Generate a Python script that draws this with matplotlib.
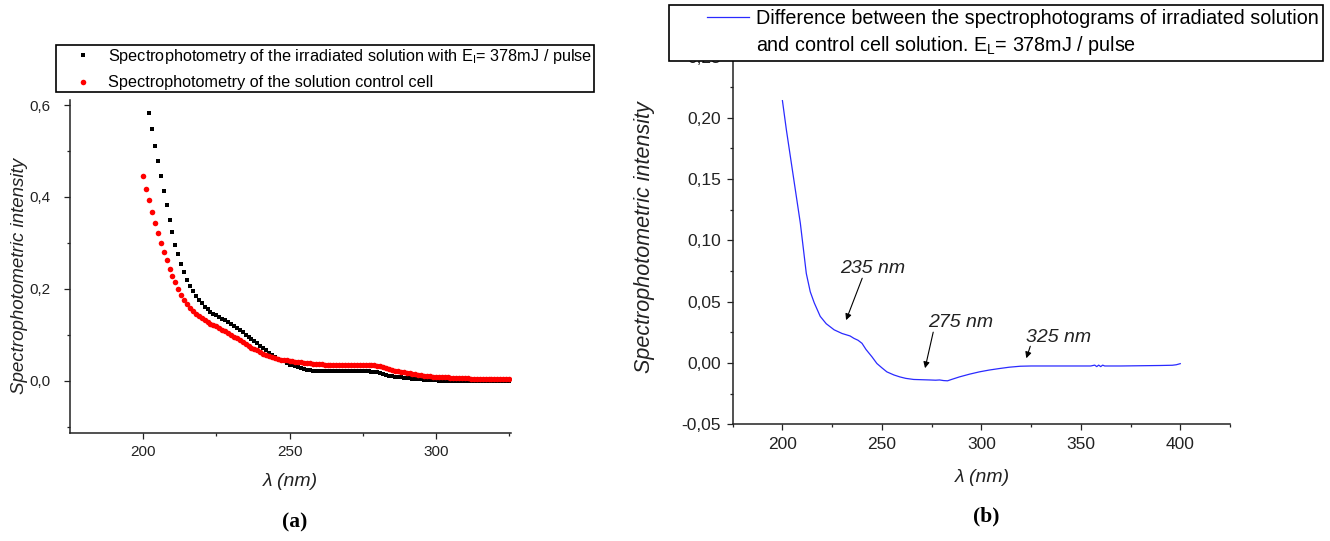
import matplotlib
matplotlib.use('Agg')
import matplotlib.pyplot as plt
import numpy as np
from matplotlib.ticker import FixedLocator, MultipleLocator
from matplotlib.lines import Line2D
from matplotlib.legend_handler import HandlerLine2D

# Fonts (Arial-like, like the Origin original)
matplotlib.rcParams['font.family'] = ['Liberation Sans', 'DejaVu Sans']
matplotlib.rcParams['mathtext.fontset'] = 'custom'
matplotlib.rcParams['mathtext.rm'] = 'Liberation Sans'
matplotlib.rcParams['mathtext.it'] = 'Liberation Sans:italic'

# ---------------- data, panel (a) ----------------
# irradiated solution, 1 nm steps from 202 nm
wl_irr = np.arange(202, 326)
int_irr = [0.583, 0.547, 0.510, 0.478, 0.446, 0.413, 0.382, 0.350,            # 202-209
           0.324, 0.296, 0.275, 0.254, 0.236, 0.220, 0.207, 0.195, 0.184, 0.175,  # 210-219
           0.168, 0.161, 0.155, 0.150, 0.146, 0.143, 0.139, 0.135, 0.131, 0.127,  # 220-229
           0.123, 0.119, 0.115, 0.110, 0.105, 0.100, 0.096, 0.091, 0.086, 0.081,  # 230-239
           0.076, 0.071, 0.066, 0.061, 0.056, 0.052, 0.048, 0.045, 0.042, 0.038,  # 240-249
           0.035, 0.033, 0.031, 0.029, 0.027, 0.026, 0.024, 0.023, 0.022, 0.021,  # 250-259
           0.021, 0.020, 0.020, 0.020, 0.020, 0.020, 0.020, 0.020, 0.020, 0.020,  # 260-269
           0.020, 0.020, 0.020, 0.020, 0.020, 0.020, 0.020, 0.020, 0.019, 0.019,  # 270-279
           0.018, 0.017, 0.015, 0.013, 0.011, 0.010, 0.009, 0.008, 0.007, 0.006,  # 280-289
           0.006, 0.005, 0.004, 0.004, 0.003, 0.003, 0.002, 0.002, 0.001, 0.001,  # 290-299
           0.001, 0.000, 0.000, 0.000, -0.001, -0.001, -0.001, -0.001, -0.001, -0.001,  # 300-309
           -0.001, -0.001, -0.001, -0.001, -0.001, -0.001, -0.001, -0.001, -0.001, -0.001,  # 310-319
           -0.001, -0.001, -0.001, -0.001, -0.001, -0.001]  # 320-325

# control cell, 1 nm steps from 200 nm
wl_ctrl = np.arange(200, 326)
int_ctrl = [0.446, 0.418, 0.393, 0.367, 0.343, 0.321, 0.299, 0.280, 0.262, 0.243,  # 200-209
            0.228, 0.214, 0.200, 0.187, 0.176, 0.166, 0.158, 0.151, 0.145, 0.140,  # 210-219
            0.136, 0.132, 0.128, 0.124, 0.121, 0.118, 0.114, 0.111, 0.107, 0.104,  # 220-229
            0.100, 0.096, 0.092, 0.088, 0.084, 0.080, 0.076, 0.072, 0.069, 0.066,  # 230-239
            0.062, 0.059, 0.056, 0.053, 0.051, 0.049, 0.047, 0.046, 0.045, 0.044,  # 240-249
            0.043, 0.042, 0.041, 0.041, 0.040, 0.039, 0.039, 0.038, 0.037, 0.037,  # 250-259
            0.036, 0.036, 0.035, 0.035, 0.034, 0.034, 0.034, 0.033, 0.033, 0.033,  # 260-269
            0.033, 0.033, 0.033, 0.033, 0.033, 0.033, 0.033, 0.033, 0.033, 0.033,  # 270-279
            0.032, 0.031, 0.029, 0.027, 0.025, 0.023, 0.021, 0.020, 0.019, 0.018,  # 280-289
            0.017, 0.016, 0.015, 0.014, 0.013, 0.012, 0.011, 0.010, 0.010, 0.009,  # 290-299
            0.009, 0.008, 0.008, 0.007, 0.007, 0.006, 0.006, 0.006, 0.005, 0.005,  # 300-309
            0.005, 0.005, 0.004, 0.004, 0.004, 0.004, 0.004, 0.003, 0.003, 0.003,  # 310-319
            0.003, 0.003, 0.003, 0.003, 0.003, 0.003]  # 320-325

# ---------------- data, panel (b) ----------------
wl_diff = [200, 202, 205.5, 209, 212, 214, 216, 219, 222, 226, 230, 234, 236, 238,
           240, 242, 245, 247.5, 250, 252.5, 256, 259, 262, 266, 270, 274, 277, 279,
           281, 283, 285, 289, 294, 299, 304, 309, 314, 319.6, 325, 335, 345, 355,
           357, 358, 359, 360, 361, 362, 370, 380, 390, 396, 398, 400]
int_diff = [0.214, 0.190, 0.152, 0.114, 0.073, 0.058, 0.049, 0.038, 0.032, 0.027,
            0.024, 0.022, 0.020, 0.0185, 0.016, 0.011, 0.005, -0.0005, -0.004, -0.0073,
            -0.0098, -0.0114, -0.0126, -0.0135, -0.0137, -0.0139, -0.0141, -0.0139,
            -0.0144, -0.0146, -0.0135, -0.0114, -0.0092, -0.0073, -0.0058, -0.0046,
            -0.0035, -0.0027, -0.0025, -0.0025, -0.0025, -0.0025, -0.0018, -0.003,
            -0.0018, -0.003, -0.0018, -0.0025, -0.0025, -0.0023, -0.0021, -0.0019,
            -0.0015, -0.0006]

# peak annotations: label, text position, arrow tail, arrow head
peaks = ['235 nm', '275 nm', '325 nm']
peak_text = [(245.6, 0.0773), (289.4, 0.0332), (338.7, 0.021)]
peak_tail = [(240.1, 0.0691), (275.8, 0.0251), (324.6, 0.0136)]
peak_head = [(232.0, 0.0349), (271.7, -0.0043), (322.6, 0.0038)]

yticks_a = [0.0, 0.2, 0.4, 0.6]
ylabels_a = ['0,0', '0,2', '0,4', '0,6']
yticks_b = [-0.05, 0.0, 0.05, 0.10, 0.15, 0.20, 0.25]
ylabels_b = ['-0,05', '0,00', '0,05', '0,10', '0,15', '0,20', '0,25']

W, H = 1330, 541
fig = plt.figure(figsize=(W / 100, H / 100), dpi=100)
fig.patch.set_facecolor('white')


def px(x, y):
    return x / W, 1 - y / H


def style_axes(ax, lab_size, ypad):
    for s in ['top', 'right']:
        ax.spines[s].set_visible(False)
    for s in ['left', 'bottom']:
        ax.spines[s].set_linewidth(1.1)
        ax.spines[s].set_color('#222222')
    ax.tick_params(which='both', direction='out', color='#222222', width=0.9,
                   labelsize=lab_size, labelcolor='#222222')
    ax.tick_params(which='major', length=4)
    ax.tick_params(which='minor', length=2.5)
    ax.tick_params(axis='y', pad=ypad)
    ax.tick_params(axis='x', pad=5)


# ---------------- panel (a) ----------------
ax1 = fig.add_axes([70 / W, 1 - 433 / H, 440.5 / W, 333 / H])
ax1.plot(wl_irr, int_irr, 's', color='black', markersize=3.4, mew=0,
         label='Spectrophotometry of the irradiated solution with E$_\\mathregular{I}$= 378mJ / pulse')
ax1.plot(wl_ctrl, int_ctrl, 'o', color='#ff0000', markersize=4, mew=0,
         label='Spectrophotometry of the solution control cell')
ax1.set_xlim(175, 325.5)
ax1.set_ylim(-0.114, 0.611)
ax1.xaxis.set_major_locator(FixedLocator([200, 250, 300]))
ax1.xaxis.set_minor_locator(FixedLocator([225, 275, 325]))
ax1.set_yticks(yticks_a)
ax1.set_yticklabels(ylabels_a)
ax1.yaxis.set_minor_locator(FixedLocator([-0.1, 0.1, 0.3, 0.5]))
style_axes(ax1, 11, 10)
ax1.set_ylabel('Spectrophotometric intensity', fontsize=13.5, style='italic', color='#222222')
ax1.yaxis.set_label_coords(*px(28, 276), transform=fig.transFigure)

leg1 = ax1.legend(loc='upper left', bbox_to_anchor=px(56, 45), bbox_transform=fig.transFigure,
                  borderaxespad=0, fontsize=11.7, numpoints=1, handlelength=3.07,
                  handletextpad=0.0, borderpad=0.12, labelspacing=0.57,
                  fancybox=False, framealpha=1)
leg1.get_frame().set_edgecolor('black')
leg1.get_frame().set_linewidth(1.2)

fig.text(*px(290, 482), '\u03bb (nm)', fontsize=14, style='italic', ha='center', va='center',
         color='#222222')
fig.text(*px(295, 522), '(a)', fontsize=15.5, fontweight='bold', family='Liberation Serif',
         ha='center', va='center')

# ---------------- panel (b) ----------------
ax2 = fig.add_axes([732.7 / W, 1 - 424.2 / H, 497.3 / W, 416.7 / H])
ln, = ax2.plot(wl_diff, int_diff, '-', color='#2a2aff', lw=0.9,
               label='Difference between the spectrophotograms of irradiated solution')
blank = Line2D([], [], color='none',
               label='and control cell solution. E$_\\mathregular{L}$= 378mJ / pulse')
ax2.set_xlim(175, 425)
ax2.set_ylim(-0.05, 0.29)
ax2.xaxis.set_major_locator(MultipleLocator(50))
ax2.xaxis.set_minor_locator(MultipleLocator(25))
ax2.set_yticks(yticks_b)
ax2.set_yticklabels(ylabels_b)
ax2.yaxis.set_minor_locator(MultipleLocator(0.025))
style_axes(ax2, 12.5, 4.5)
ax2.set_ylabel('Spectrophotometric intensity', fontsize=15.5, style='italic', color='#222222')
ax2.yaxis.set_label_coords(*px(655, 237), transform=fig.transFigure)

for lab, tp, tl, hd in zip(peaks, peak_text, peak_tail, peak_head):
    ax2.text(tp[0], tp[1], lab, fontsize=14, style='italic', ha='center', va='center',
             color='#222222')
    ax2.annotate('', xy=hd, xytext=tl,
                 arrowprops=dict(arrowstyle='-|>', color='black', lw=0.8,
                                 mutation_scale=9, shrinkA=0, shrinkB=0))

leg2 = ax2.legend(handles=[ln, blank], loc='upper left', bbox_to_anchor=px(669, 5),
                  bbox_transform=fig.transFigure, borderaxespad=0, fontsize=14.2,
                  handlelength=3.86, handletextpad=0.36, borderpad=0.2, labelspacing=0.3,
                  fancybox=False, framealpha=1,
                  handler_map={ln: HandlerLine2D(xpad=1.72)})
leg2.get_frame().set_edgecolor('black')
leg2.get_frame().set_linewidth(1.2)

fig.text(*px(982, 477), '\u03bb (nm)', fontsize=14, style='italic', ha='center', va='center',
         color='#222222')
fig.text(*px(986, 516), '(b)', fontsize=15.5, fontweight='bold', family='Liberation Serif',
         ha='center', va='center')

fig.savefig('out.png', dpi=100, facecolor='white')
